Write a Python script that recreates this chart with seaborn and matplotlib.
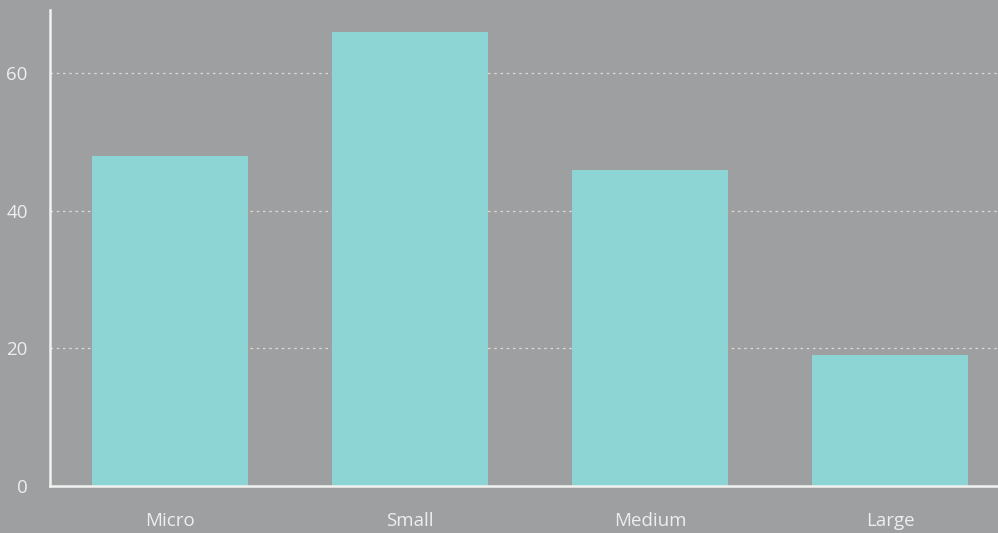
import pandas as pd
import matplotlib.pyplot as plt
import seaborn as sns

categories = ["Micro", "Small", "Medium", "Large"]
values = [48, 66, 46, 19]
yticks = [0, 20, 40, 60]

bg_color = "#9d9fa0"
bar_color = "#8dd4d5"
text_color = "#eeeeee"

data = pd.DataFrame({"size": categories, "count": values})

sns.set_theme(style="white")
plt.rcParams["font.family"] = ["Open Sans", "DejaVu Sans"]

fig = plt.figure(figsize=(9.98, 5.33), dpi=100)
fig.patch.set_facecolor(bg_color)
# axes run past the right edge like in the reference
ax = fig.add_axes([50 / 998, 47 / 533, 960 / 998, 476 / 533])
ax.set_facecolor(bg_color)

sns.barplot(data=data, x="size", y="count", color=bar_color,
            saturation=1, width=0.65, linewidth=0, ax=ax, zorder=2)

ax.set_xlim(-0.5, 3.5)
ax.set_ylim(0, 69.2)
ax.set_yticks(yticks)
ax.set_xlabel("")
ax.set_ylabel("")

ax.yaxis.grid(True, color="#dadada", linestyle=(0, (2, 3)), linewidth=0.9)
ax.set_axisbelow(True)

for side in ["top", "right"]:
    ax.spines[side].set_visible(False)
for side in ["left", "bottom"]:
    ax.spines[side].set_color("#f2f2f2")
    ax.spines[side].set_linewidth(1.8)

ax.tick_params(axis="both", length=0, colors=text_color, labelsize=13.5)
ax.tick_params(axis="x", pad=19)
ax.tick_params(axis="y", pad=16)

fig.savefig("out.png", dpi=100, facecolor=bg_color)
